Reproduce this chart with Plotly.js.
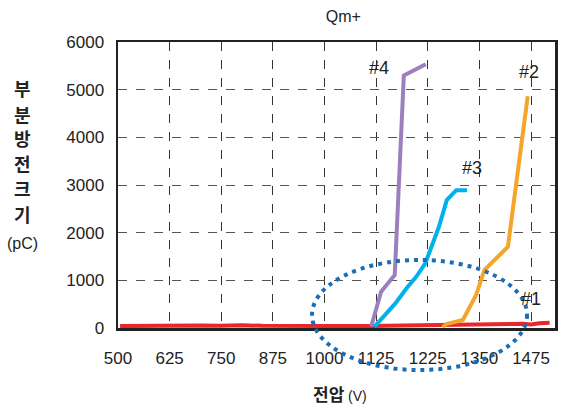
<!DOCTYPE html>
<html>
<head>
<meta charset="utf-8">
<script src="https://cdn.plot.ly/plotly-3.0.1.min.js"></script>
<style>html,body{margin:0;padding:0;background:#fff;}#chart{width:561px;height:407px;}</style>
</head>
<body>
<div id="chart"></div>
<script>
// Tick positions (evenly spaced on the original chart) and their printed labels
const tickVals = [500, 625, 750, 875, 1000, 1125, 1250, 1375, 1500];
const tickText = ['500', '625', '750', '875', '1000', '1125', '1225', '1350', '1475'];
const yTicks = [0, 1000, 2000, 3000, 4000, 5000, 6000];

// Series (x in the chart's evenly spaced voltage scale, y in pC)
const s1x = [505, 560, 625, 700, 750, 800, 850, 900, 950, 1000, 1050, 1100, 1150, 1200, 1250, 1300, 1350, 1400, 1450, 1480, 1500, 1520, 1545];
const s1y = [40, 45, 60, 55, 45, 60, 45, 40, 45, 50, 45, 40, 45, 50, 45, 55, 70, 80, 85, 90, 75, 100, 110];
const s2x = [1286, 1295, 1335, 1367, 1387, 1444, 1492];
const s2y = [20, 84, 168, 692, 1216, 1704, 4863];
const s3x = [1121, 1170, 1200, 1222, 1244, 1277, 1296, 1319, 1345];
const s3y = [30, 500, 850, 1075, 1356, 2123, 2683, 2892, 2892];
const s4x = [1113, 1137, 1170, 1192, 1245];
const s4y = [30, 760, 1110, 5297, 5533];

const names = ['#1', '#2', '#3', '#4'];
const labelX = [1499, 1496, 1356, 1133];
const labelY = [608, 5366, 3354, 5450];

const yTitleChars = ['부', '분', '방', '전', '크', '기'];
const yTitleUnit = '(pC)';
const xTitle = '전압';
const xTitleUnit = '(V)';

const colors = ['#e8262b', '#f5a52a', '#00b2ec', '#9c80be'];
const xs = [s1x, s2x, s3x, s4x];
const ys = [s1y, s2y, s3y, s4y];

const traces = xs.map((x, i) => ({
  x: x, y: ys[i], type: 'scatter', mode: 'lines', name: names[i],
  line: {color: colors[i], width: 4}, cliponaxis: false, hoverinfo: 'skip'
}));

const PH = 286, PW = 437, PL = 118, PB = 328;
const py = p => (PB - p) / PH;
const px = p => (p - PL) / PW;

const annotations = names.map((n, i) => ({
  x: labelX[i], y: labelY[i], xref: 'x', yref: 'y', text: n, showarrow: false,
  font: {family: 'Liberation Sans, Arial, sans-serif', size: 18, color: '#222'}
}));
const charY = [88, 114, 138, 163, 188, 214];
yTitleChars.forEach((c, i) => annotations.push({
  xref: 'paper', yref: 'paper', x: px(22), y: py(charY[i]), xanchor: 'center', yanchor: 'middle',
  showarrow: false, text: '<b>' + c + '</b>',
  font: {family: 'Noto Sans CJK KR, sans-serif', size: 18, color: '#222'}
}));
annotations.push({
  xref: 'paper', yref: 'paper', x: px(22), y: py(243), xanchor: 'center', yanchor: 'middle',
  showarrow: false, text: yTitleUnit,
  font: {family: 'Liberation Sans, Arial, sans-serif', size: 16, color: '#222'}
});
annotations.push({
  xref: 'paper', yref: 'paper', x: px(340), y: py(393), xanchor: 'center', yanchor: 'middle',
  showarrow: false,
  text: '<b>' + xTitle + '</b> <span style="font-size:14px;font-family:Liberation Sans">' + xTitleUnit + '</span>',
  font: {family: 'Noto Sans CJK KR, sans-serif', size: 17, color: '#222'}
});

const layout = {
  width: 561, height: 407,
  margin: {l: 118, r: 6, t: 42, b: 79},
  paper_bgcolor: '#fff', plot_bgcolor: '#fff',
  showlegend: false,
  title: {text: 'Qm+', x: 0.612, xanchor: 'center', y: 0.96, yanchor: 'middle',
          font: {family: 'Liberation Sans, Arial, sans-serif', size: 16, color: '#222'}},
  xaxis: {
    type: 'linear', range: [500, 1558], tickvals: tickVals, ticktext: tickText,
    showgrid: true, gridcolor: '#333', griddash: 'dash', gridwidth: 1,
    showline: true, linecolor: '#222', linewidth: 2.5, mirror: true,
    zeroline: false, ticks: '', ticklabelstandoff: 13,
    tickfont: {family: 'Liberation Sans, Arial, sans-serif', size: 17, color: '#222'}
  },
  yaxis: {
    range: [0, 6000], tickvals: yTicks,
    showgrid: true, gridcolor: '#555', griddash: 'dash', gridwidth: 1,
    showline: true, linecolor: '#222', linewidth: 2.5, mirror: true,
    zeroline: false, ticks: '', ticklabelstandoff: 8,
    tickfont: {family: 'Liberation Sans, Arial, sans-serif', size: 17, color: '#222'}
  },
  shapes: [{
    type: 'circle', xref: 'paper', yref: 'paper',
    x0: 0.444, x1: 0.936, y0: -0.147, y1: 0.238,
    line: {color: '#1c6db5', width: 4, dash: '4px,5px'}, layer: 'above'
  }],
  annotations: annotations
};

Plotly.newPlot('chart', traces, layout, {displayModeBar: false, staticPlot: true});
</script>
</body>
</html>
